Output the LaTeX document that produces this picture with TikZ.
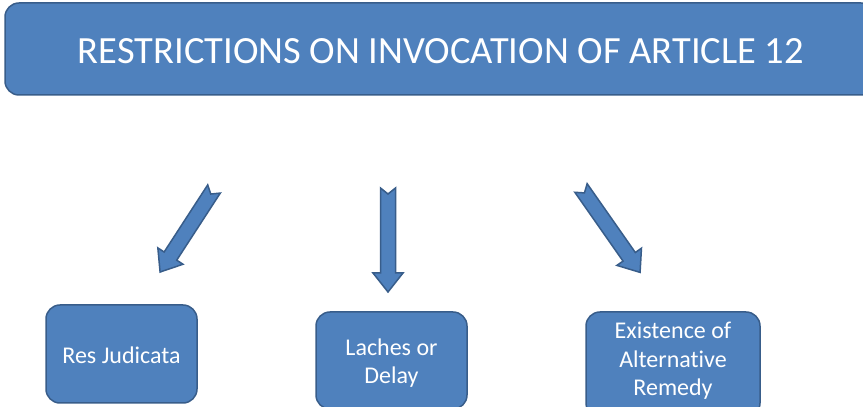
\documentclass[tikz,border=0pt]{standalone}
\usepackage{fontspec}
\setmainfont{Carlito}[Ligatures=NoCommon]
\definecolor{boxfill}{HTML}{4F81BD}
\definecolor{boxline}{HTML}{385D8A}
\tikzset{
  bluebox/.style={draw=boxline, line width=1.5pt, fill=boxfill, rounded corners=14pt, text=white, align=center},
  boxtext/.style={text=white, font=\fontsize{24}{28.5}\selectfont, align=center},
  blockarrow/.style={draw=boxline, line width=1.5pt, fill=boxfill, line join=miter}
}
\newcommand{\blkarrow}[4]{% x, y, angle, length
  \begin{scope}[shift={(#1,#2)}, rotate=#3]
    \draw[blockarrow] (0,7.5) -- (#4-19,7.5) -- (#4-19,15) -- (#4,0) -- (#4-19,-15) -- (#4-19,-7.5) -- (0,-7.5) -- (6,0) -- cycle;
  \end{scope}}
\begin{document}
\begin{tikzpicture}[x=1pt,y=1pt]
\useasboundingbox (0,0) rectangle (863,407);
\fill[white] (0,0) rectangle (863,407);
\begin{scope}
\clip (0,0) rectangle (863,407);
\draw[bluebox] (5,312) rectangle (875,404);
\node[text=white, font=\fontsize{38.5}{44}\selectfont] (title) at (441,356) {RESTRICTIONS ON INVOCATION OF ARTICLE 12};
\draw[bluebox] (46,4) rectangle (197,102);
\node[boxtext] (res) at (121.5,52) {Res Judicata};
\draw[bluebox] (316,-2) rectangle (467,95);
\node[boxtext] (laches) at (391.5,44) {Laches or\\Delay};
\draw[bluebox] (586,-10) rectangle (760,95);
\node[boxtext] (alt) at (673,46) {Existence of\\Alternative\\Remedy};
\blkarrow{214}{218}{237}{99}
\blkarrow{388}{219}{270}{104}
\blkarrow{581}{219}{-55}{103}
\end{scope}
\end{tikzpicture}
\end{document}
